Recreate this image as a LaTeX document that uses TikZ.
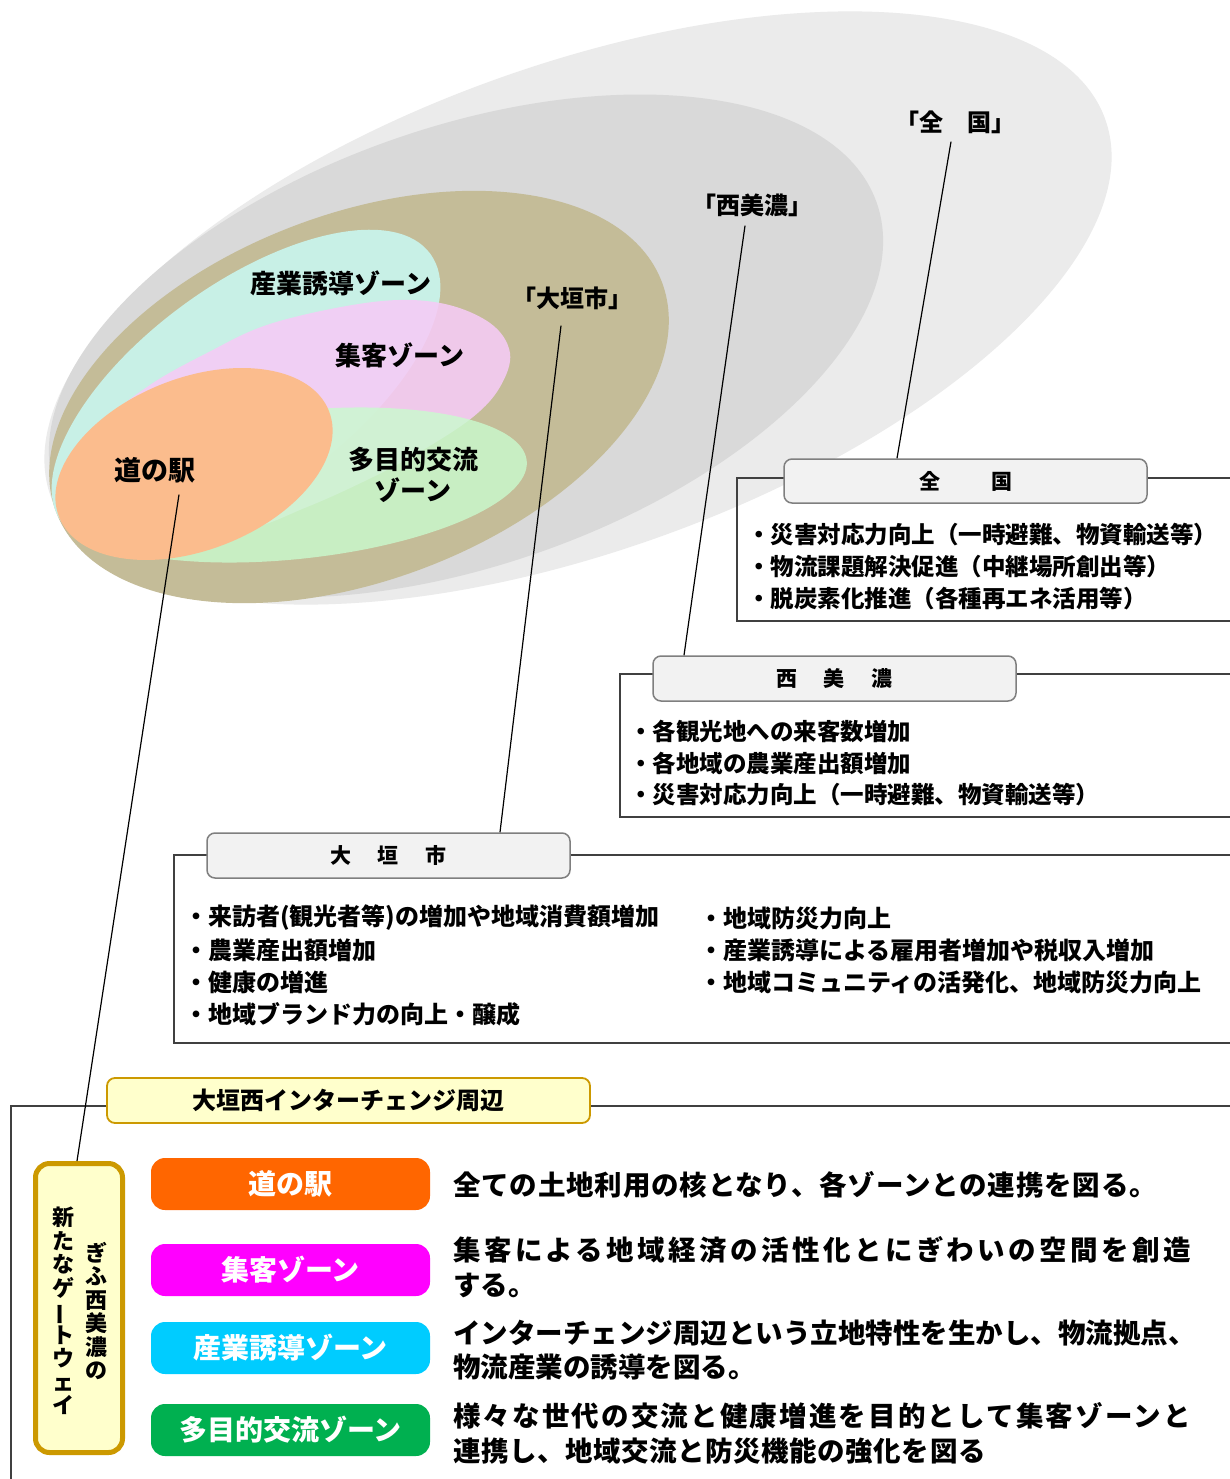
\documentclass[tikz,border=0pt]{standalone}
\usepackage{fontspec}
\usepackage{graphicx}
\setmainfont{Noto Sans CJK JP}
\newcommand\jfs[1]{\fontsize{#1pt}{#1pt}\selectfont}
\newcommand\vbar{\rotatebox[origin=c]{90}{ー}}
\definecolor{g1}{HTML}{EBEBEB}
\definecolor{g2}{HTML}{D9D9D9}
\definecolor{tanc}{HTML}{C4BC98}
\definecolor{cyanc}{HTML}{C8F0E6}
\definecolor{pinkc}{HTML}{F6CBF6}
\definecolor{greenc}{HTML}{C9FBCE}
\definecolor{orangec}{HTML}{FBBC8D}
\definecolor{hdrfill}{HTML}{F2F2F2}
\definecolor{hdrline}{HTML}{7F7F7F}
\definecolor{framec}{HTML}{404040}
\definecolor{icfill}{HTML}{FFFFCC}
\definecolor{icline}{HTML}{CC9900}
\definecolor{zorange}{HTML}{FF6600}
\definecolor{zmag}{HTML}{FF00FF}
\definecolor{zcyan}{HTML}{00CCFF}
\definecolor{zgreen}{HTML}{00B050}
\begin{document}
\begin{tikzpicture}[x=1pt,y=-1pt,
  lbl/.style={font=\bfseries\jfs{24}, inner sep=0pt},
  zlbl/.style={font=\bfseries\jfs{26}, inner sep=0pt},
  leader/.style={draw=black, line width=1.2pt},
  frame/.style={draw=framec, line width=1.2pt},
  hdr/.style={draw=hdrline, fill=hdrfill, line width=1.5pt, rounded corners=8pt,
    minimum width=363pt, minimum height=44pt, inner sep=0pt, font=\bfseries\jfs{21}},
  item/.style={anchor=west, inner sep=0pt, font=\bfseries\jfs{23.5}},
  oitem/.style={anchor=west, inner sep=0pt, font=\bfseries\jfs{24}},
  ichdr/.style={draw=icline, fill=icfill, line width=1.8pt, rounded corners=8pt,
    minimum width=483pt, minimum height=45pt, inner sep=0pt, font=\bfseries\jfs{24}},
  gwbox/.style={draw=icline, fill=icfill, line width=5pt, rounded corners=14pt,
    minimum width=87pt, minimum height=289pt, inner sep=0pt},
  vtext/.style={align=center, inner sep=0pt, font=\bfseries\fontsize{22pt}{23.5pt}\selectfont},
  zone/.style={rounded corners=14pt, minimum width=279pt, minimum height=52pt,
    inner sep=0pt, text=white, font=\bfseries\jfs{28}},
  desc/.style={anchor=west, inner sep=0pt, font=\bfseries\jfs{27.5}}]
\useasboundingbox (0,0) rectangle (1229,1479);
\fill[white] (0,0) rectangle (1229,1479);

% nested areas
\fill[g1, rotate around={19.7:(578,308)}] (578,308) ellipse [x radius=560pt, y radius=243pt];
\fill[g2, rotate around={19.2:(466,346)}] (466,346) ellipse [x radius=435pt, y radius=219pt];
\fill[tanc, rotate around={20.8:(359,397)}] (359,397) ellipse [x radius=324pt, y radius=183pt];
\fill[cyanc, rotate around={36:(246,388)}] (246,388) ellipse [x radius=228pt, y radius=104pt];
\fill[pinkc, fill opacity=0.88] plot[smooth cycle, tension=0.6] coordinates {
  (147,387) (207,353) (273,323) (373,302) (440,303) (490,323) (510,353) (500,387)
  (473,417) (423,450) (373,477) (307,507) (240,530) (150,525) (95,480) (105,425)};
\fill[greenc, fill opacity=0.8, rotate around={6:(295,485)}] (295,485) ellipse [x radius=233pt, y radius=74pt];
\fill[orangec, rotate around={21.4:(194,464)}] (194,464) ellipse [x radius=145pt, y radius=86pt];

% area labels
\node[lbl] (lzen) at (955,122) {「全　国」};
\node[lbl] (lnishi) at (752,205) {「西美濃」};
\node[lbl] (logaki) at (572,298) {「大垣市」};
\node[zlbl] (lsan) at (341,283) {産業誘導ゾーン};
\node[zlbl] (lshu) at (400,355) {集客ゾーン};
\node[zlbl, align=center] (ltamo) at (413,475) {多目的交流\\[5pt]ゾーン};
\node[zlbl, font=\bfseries\jfs{27}] (lmichi) at (155,470) {道の駅};

% 全国 panel
\draw[frame] (737,478) rectangle (1300,621);
\node[hdr] (hzen) at (965.5,481) {全\hspace{51pt}国};
\node[item] (z1) at (747,535) {・災害対応力向上（一時避難、物資輸送等）};
\node[item] (z2) at (747,567) {・物流課題解決促進（中継場所創出等）};
\node[item] (z3) at (747,599) {・脱炭素化推進（各種再エネ活用等）};

% 西美濃 panel
\draw[frame] (620,674) rectangle (1300,817);
\node[hdr, minimum height=45pt] (hnishi) at (834.5,678.5) {西\hspace{26.5pt}美\hspace{26.5pt}濃};
\node[item] (n1) at (629,731) {・各観光地への来客数増加};
\node[item] (n2) at (629,763) {・各地域の農業産出額増加};
\node[item] (n3) at (629,795) {・災害対応力向上（一時避難、物資輸送等）};

% 大垣市 panel
\draw[frame] (174,855) rectangle (1300,1043);
\node[hdr, minimum height=45pt] (hogaki) at (388.5,855.5) {大\hspace{27pt}垣\hspace{27pt}市};
\node[oitem] (o1) at (184,918) {・来訪者(観光者等)の増加や地域消費額増加};
\node[oitem] (o2) at (184,950) {・農業産出額増加};
\node[oitem] (o3) at (184,982) {・健康の増進};
\node[oitem] (o4) at (184,1014) {・地域ブランド力の向上・醸成};
\node[oitem] (o5) at (699,918) {・地域防災力向上};
\node[oitem] (o6) at (699,950) {・産業誘導による雇用者増加や税収入増加};
\node[oitem] (o7) at (699,982) {・地域コミュニティの活発化、地域防災力向上};

% interchange panel
\draw[frame] (11,1106) rectangle (1300,1600);
\node[ichdr] (hic) at (348.5,1100.5) {大垣西インターチェンジ周辺};
\node[gwbox] (gw) at (79,1308) {};
\node[vtext] (gwr) at (96,1311) {ぎ\\ふ\\西\\美\\濃\\の};
\node[vtext] (gwl) at (63,1311) {新\\た\\な\\ゲ\\\vbar\\ト\\ウ\\ェ\\イ};

\node[zone, fill=zorange] (zmichi) at (290.5,1184) {道の駅};
\node[zone, fill=zmag] (zshu) at (290.5,1270) {集客ゾーン};
\node[zone, fill=zcyan] (zsan) at (290.5,1348) {産業誘導ゾーン};
\node[zone, fill=zgreen] (ztamo) at (290.5,1430) {多目的交流ゾーン};

\node[desc, font=\bfseries\jfs{27.5}\addfontfeature{LetterSpace=3}] (d1) at (453,1185) {全ての土地利用の核となり、各ゾーンとの連携を図る。};
\node[desc, font=\bfseries\jfs{27.5}\addfontfeature{LetterSpace=12.4}] (d2a) at (453,1250) {集客による地域経済の活性化とにぎわいの空間を創造};
\node[desc] (d2b) at (453,1285) {する。};
\node[desc] (d3a) at (453,1333) {インターチェンジ周辺という立地特性を生かし、物流拠点、};
\node[desc] (d3b) at (453,1367) {物流産業の誘導を図る。};
\node[desc, font=\bfseries\jfs{27.5}\addfontfeature{LetterSpace=7.9}] (d4a) at (453,1416) {様々な世代の交流と健康増進を目的として集客ゾーンと};
\node[desc, font=\bfseries\jfs{27.5}\addfontfeature{LetterSpace=2}] (d4b) at (453,1451) {連携し、地域交流と防災機能の強化を図る};

% leader lines
\draw[leader] ([shift={(-4,8)}]lzen.south) -- ([xshift=-68.5pt]hzen.north);
\draw[leader] ([shift={(-7,9)}]lnishi.south) -- ([xshift=-150.5pt]hnishi.north);
\draw[leader] ([shift={(-11,16)}]logaki.south) -- ([xshift=111.5pt]hogaki.north);
\draw[leader] ([shift={(24,11.5)}]lmichi.south) -- ([xshift=-2pt]gw.north);
\end{tikzpicture}
\end{document}
